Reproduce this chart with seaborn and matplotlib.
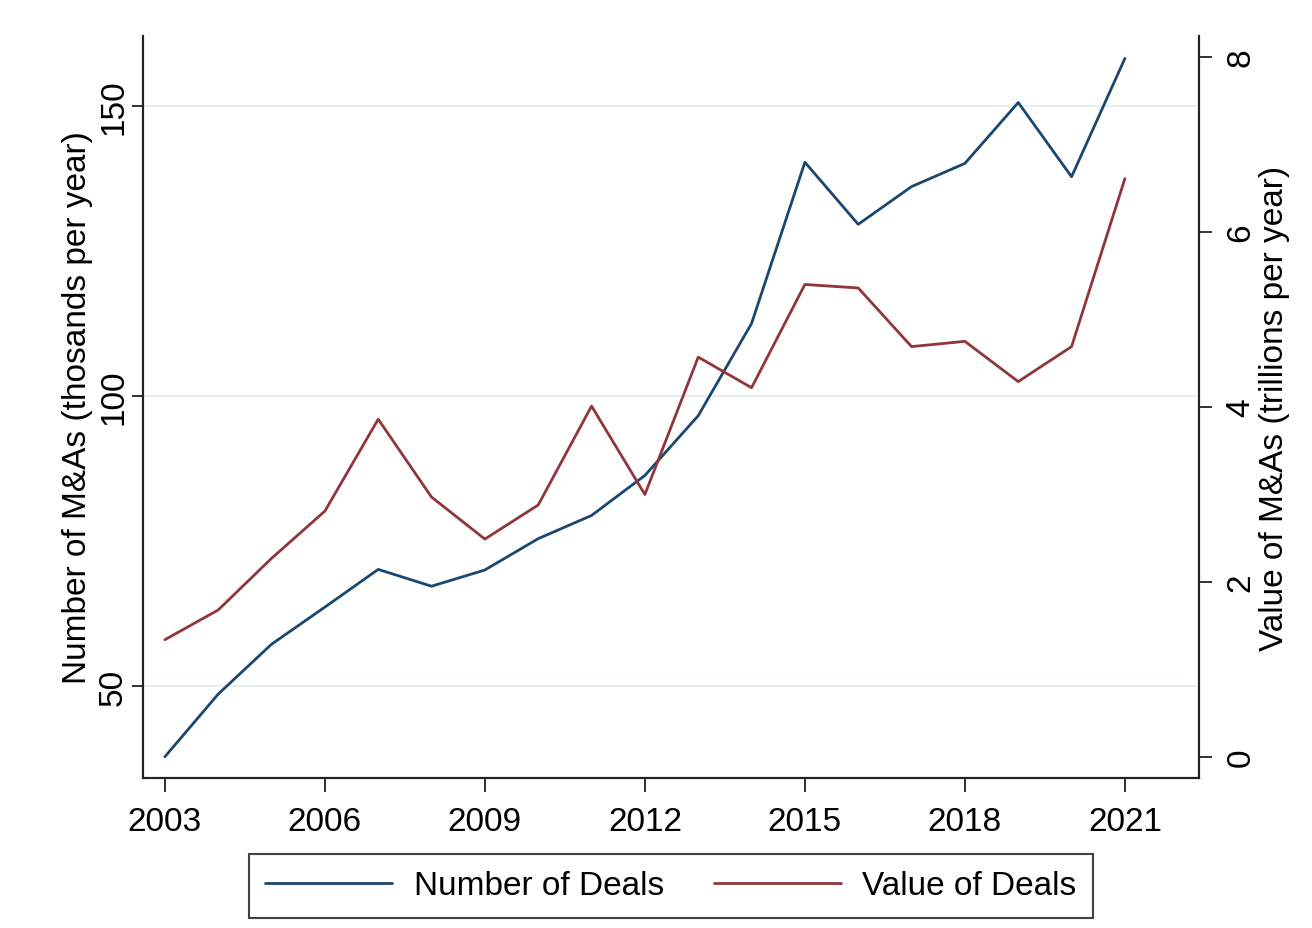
import numpy as np
import pandas as pd
import matplotlib
matplotlib.use("Agg")
import matplotlib.pyplot as plt
import seaborn as sns

# ======================================
# DATA
# ======================================

years = list(range(2003, 2022))
num_deals = [37.8, 48.6, 57.2, 63.6, 70.1, 67.2, 70.0, 75.4, 79.4, 86.3,
             96.6, 112.5, 140.3, 129.6, 136.1, 140.1, 150.6, 137.8, 158.2]
value_deals = [1.34, 1.68, 2.27, 2.81, 3.86, 2.97, 2.49, 2.88, 4.01, 3.00,
               4.57, 4.22, 5.40, 5.36, 4.69, 4.75, 4.29, 4.69, 6.61]

x_ticks = [2003, 2006, 2009, 2012, 2015, 2018, 2021]
left_ticks = [50, 100, 150]
right_ticks = [0, 2, 4, 6, 8]

df = pd.DataFrame({"Year": years, "Number": num_deals, "Value": value_deals})

# ======================================
# STYLE
# ======================================

sns.set_theme(style="white")
plt.rcParams["font.family"] = ["Liberation Sans", "DejaVu Sans"]
plt.rcParams["text.color"] = "black"
plt.rcParams["axes.labelcolor"] = "black"
plt.rcParams["xtick.color"] = "black"
plt.rcParams["ytick.color"] = "black"

navy = "#1a476f"
maroon = "#90353b"
fs = 24

fig = plt.figure(figsize=(13.12, 9.29), dpi=100)
ax = fig.add_axes([0.109, 0.1615, 0.8049, 0.7987])
ax2 = ax.twinx()

# ======================================
# LINES
# ======================================

sns.lineplot(data=df, x="Year", y="Number", ax=ax, color=navy, linewidth=2,
             label="Number of Deals", legend=False)
sns.lineplot(data=df, x="Year", y="Value", ax=ax2, color=maroon, linewidth=2,
             label="Value of Deals", legend=False)

ax.set_xlim(2002.59, 2022.39)
ax.set_ylim(34.14, 162.07)
ax2.set_ylim(-0.24, 8.24)

ax.set_xticks(x_ticks)
ax.set_yticks(left_ticks)
ax2.set_yticks(right_ticks)
ax.set_xticklabels([str(t) for t in x_ticks], fontsize=fs)
ax.set_yticklabels([str(t) for t in left_ticks], fontsize=fs, rotation=90, va="center")
ax2.set_yticklabels([str(t) for t in right_ticks], fontsize=fs, rotation=90, va="center")

ax.grid(axis="y", color="#e6eef0", linewidth=1.5)
ax.grid(axis="x", visible=False)
ax2.grid(False)

for a in (ax, ax2):
    a.spines["top"].set_visible(False)
    for s in ("left", "right", "bottom"):
        a.spines[s].set_color("#222222")
        a.spines[s].set_linewidth(1.5)

ax.tick_params(axis="x", bottom=True, length=10, width=1.3, color="#222222", pad=10)
ax.tick_params(axis="y", left=True, length=8, width=1.3, color="#222222", pad=2)
ax2.tick_params(axis="y", right=True, length=9, width=1.3, color="#222222", pad=10)

ax.set_xlabel("")
ax.set_ylabel("Number of M&As (thosands per year)", fontsize=fs, labelpad=4)
ax2.set_ylabel("Value of M&As (trillions per year)", fontsize=fs, rotation=90, labelpad=2)

# ======================================
# LEGEND
# ======================================

h1, l1 = ax.get_legend_handles_labels()
h2, l2 = ax2.get_legend_handles_labels()
leg = ax2.legend(h1 + h2, l1 + l2, loc="upper center", bbox_to_anchor=(0.5, -0.102),
                 ncol=2, fontsize=fs, frameon=True, fancybox=False,
                 handlelength=3.8, handletextpad=0.65, columnspacing=1.5,
                 borderaxespad=0, borderpad=0.5)
leg.get_frame().set_edgecolor("#111111")
leg.get_frame().set_linewidth(1.5)

fig.savefig("out.png", dpi=100, facecolor="white")
